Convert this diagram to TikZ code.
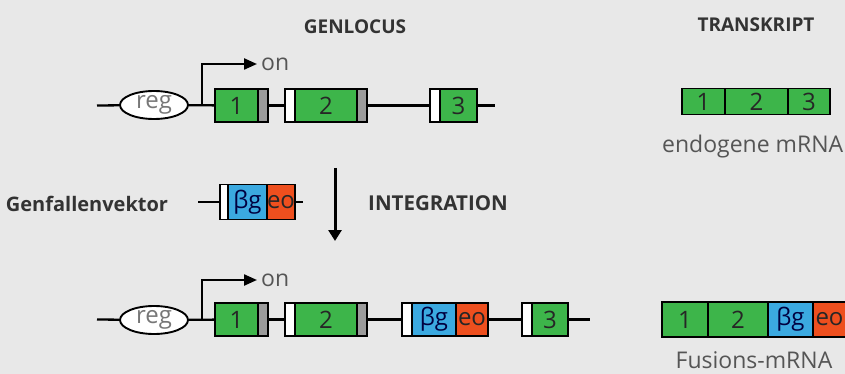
\documentclass[tikz,border=0pt]{standalone}
\usepackage{fontspec}
\setmainfont{Open Sans}
\usetikzlibrary{arrows.meta,positioning,shapes.geometric}
\definecolor{bggray}{HTML}{E8E8E8}
\definecolor{exongreen}{HTML}{3DB54A}
\definecolor{bgalblue}{HTML}{3BA9E0}
\definecolor{neored}{HTML}{EE4F1E}
\definecolor{txtgray}{HTML}{555555}
\definecolor{titlegray}{HTML}{333333}
\definecolor{stripegray}{HTML}{9B9B9B}
\tikzset{
    boxnode/.style = {
        rectangle,
        draw=black,
        line width=1.9pt,
        minimum height=33pt,
        inner sep=0pt,
        outer sep=0pt,
        text=black!85,
        font=\fontsize{24}{24}\selectfont
    },
    exonnode/.style = {
        boxnode,
        fill=exongreen
    },
    bgalnode/.style = {
        boxnode,
        fill=bgalblue,
        text=black!75!blue
    },
    neonode/.style = {
        boxnode,
        fill=neored
    },
    whitestripe/.style = {
        boxnode,
        fill=white,
        minimum width=10pt
    },
    graystripe/.style = {
        boxnode,
        fill=stripegray,
        minimum width=10pt
    },
    regnode/.style = {
        ellipse,
        draw=black,
        fill=white,
        line width=1.9pt,
        minimum width=68pt,
        minimum height=28pt,
        inner sep=0pt,
        text=txtgray!80,
        font=\fontsize{24}{24}\selectfont
    },
    titlenode/.style = {
        text=titlegray,
        font=\bfseries\fontsize{19}{19}\selectfont
    },
    labelnode/.style = {
        text=txtgray,
        font=\fontsize{23}{23}\selectfont
    },
    dnaline/.style = {
        line width=2.3pt
    },
    promarrow/.style = {
        line width=2.3pt,
        -{Triangle[length=13pt,width=11pt]}
    }
}
\begin{document}
\begin{tikzpicture}[x=1pt,y=-1pt]
    \fill[bggray] (0,0) rectangle (845,374);
    \useasboundingbox (0,0) rectangle (845,374);
    \clip (0,0) rectangle (845,374);

    \node[titlenode] (genlocus) at (355,27) {GENLOCUS};
    \node[titlenode] (transkript) at (756,25) {TRANSKRIPT};

    \node[regnode] (reg1) at (154,105) {reg};
    \node[exonnode, minimum width=43pt] (e1a) at (236.5,105.5) {1};
    \node[graystripe, right=0pt of e1a] (e1ar) {};
    \node[whitestripe] (e2al) at (290,105.5) {};
    \node[exonnode, minimum width=62pt, right=0pt of e2al] (e2a) {2};
    \node[graystripe, right=0pt of e2a] (e2ar) {};
    \node[whitestripe] (e3al) at (435,105.5) {};
    \node[exonnode, minimum width=37pt, right=0pt of e3al] (e3a) {3};
    \coordinate (s1) at (97,105.5);
    \coordinate (t1) at (495,105.5);
    \coordinate (p1) at (202,105.5);
    \node[labelnode, anchor=west, inner sep=0pt] (on1) at (261,64) {on};
    \draw[dnaline] (s1) -- (reg1) -- (e1a);
    \draw[dnaline] (e1ar) -- (e2al);
    \draw[dnaline] (e2ar) -- (e3al);
    \draw[dnaline] (e3a) -- (t1);
    \draw[promarrow, shorten >=4pt] (p1) |- (on1.west);

    \node[titlenode, font=\bfseries\fontsize{20}{20}\selectfont] (vektor) at (87,204) {Genfallenvektor};
    \node[whitestripe, minimum width=8pt, minimum height=35pt] (vw) at (224,202) {};
    \node[bgalnode, minimum width=39pt, minimum height=35pt, right=0pt of vw] (vb) {βg};
    \node[neonode, minimum width=28pt, minimum height=35pt, right=0pt of vb] (vn) {eo};
    \coordinate (vs) at (198,202);
    \coordinate (vt) at (303,202);
    \draw[dnaline] (vs) -- (vw);
    \draw[dnaline] (vn) -- (vt);
    \coordinate (a1) at (335,168);
    \coordinate (a2) at (335,241);
    \draw[line width=3pt, -{Triangle[length=11pt,width=13pt]}] (a1) -- (a2);
    \node[titlenode, font=\bfseries\fontsize{20.5}{20.5}\selectfont] (integ) at (438,203) {INTEGRATION};

    \node[regnode] (reg2) at (154,320) {reg};
    \node[exonnode, minimum width=43pt] (e1b) at (236.5,319.5) {1};
    \node[graystripe, right=0pt of e1b] (e1br) {};
    \node[whitestripe] (e2bl) at (290,319.5) {};
    \node[exonnode, minimum width=62pt, right=0pt of e2bl] (e2b) {2};
    \node[graystripe, right=0pt of e2b] (e2br) {};
    \node[whitestripe] (insl) at (407,319.5) {};
    \node[bgalnode, minimum width=44pt, right=0pt of insl] (insb) {βg};
    \node[neonode, minimum width=32pt, right=0pt of insb] (insn) {eo};
    \node[whitestripe] (e3bl) at (527,319.5) {};
    \node[exonnode, minimum width=36pt, right=0pt of e3bl] (e3b) {3};
    \coordinate (s2) at (97,319.5);
    \coordinate (t2) at (590,319.5);
    \coordinate (p2) at (202,319.5);
    \node[labelnode, anchor=west, inner sep=0pt] (on2) at (261,280) {on};
    \draw[dnaline] (s2) -- (reg2) -- (e1b);
    \draw[dnaline] (e1br) -- (e2bl);
    \draw[dnaline] (e2br) -- (insl);
    \draw[dnaline] (insn) -- (e3bl);
    \draw[dnaline] (e3b) -- (t2);
    \draw[promarrow, shorten >=4pt] (p2) |- (on2.west);

    \node[exonnode, minimum width=43pt, minimum height=26pt] (m1) at (703.5,101.5) {1};
    \node[exonnode, minimum width=63pt, minimum height=26pt, right=0pt of m1] (m2) {2};
    \node[exonnode, minimum width=42pt, minimum height=26pt, right=0pt of m2] (m3) {3};
    \node[labelnode, anchor=west, inner sep=0pt] (endo) at (662,147) {endogene mRNA};

    \node[exonnode, minimum width=46pt, minimum height=35pt] (f1) at (685,319.5) {1};
    \node[exonnode, minimum width=60pt, minimum height=35pt, right=0pt of f1] (f2) {2};
    \node[bgalnode, minimum width=45pt, minimum height=35pt, right=0pt of f2] (f3) {βg};
    \node[neonode, minimum width=33pt, minimum height=35pt, right=0pt of f3] (f4) {eo};
    \node[labelnode] (fusion) at (754,360) {Fusions-mRNA};
\end{tikzpicture}
\end{document}
